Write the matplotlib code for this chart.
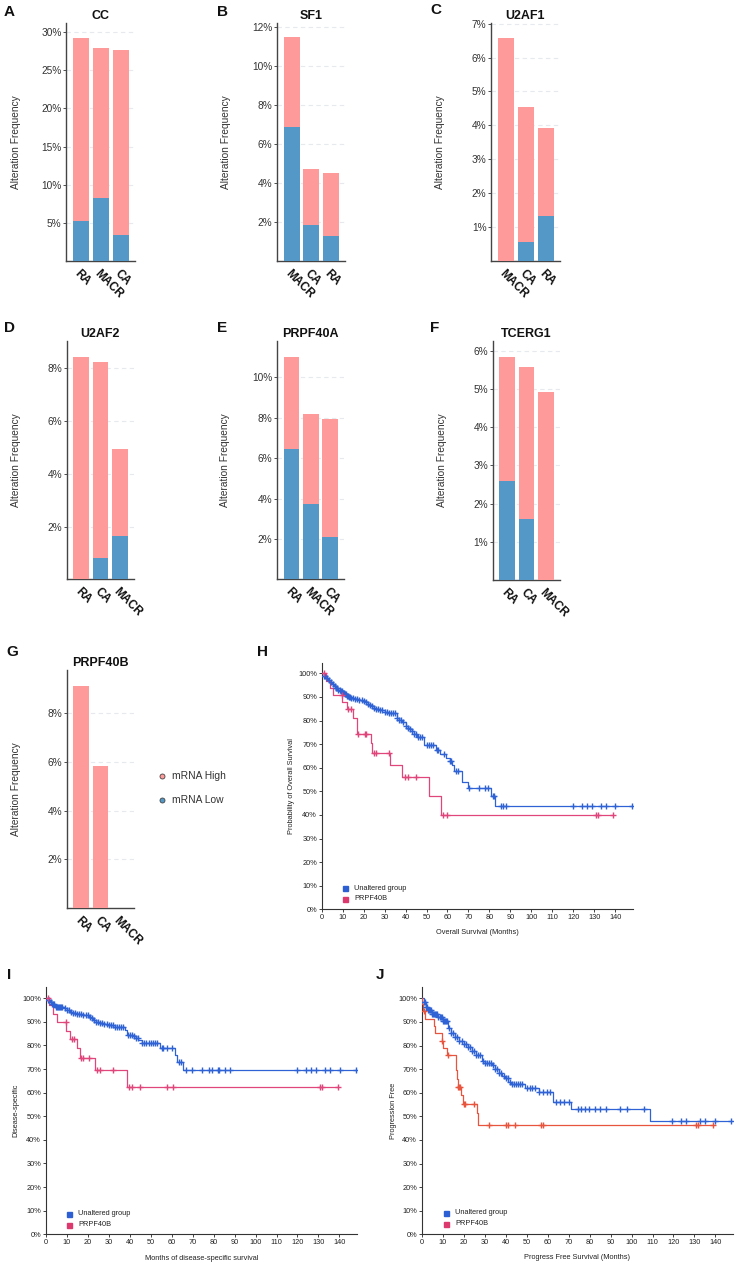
import numpy as np
import matplotlib
matplotlib.use("Agg")
import matplotlib.pyplot as plt

plt.rcParams['font.family'] = ['Liberation Sans', 'DejaVu Sans']

# ---------------- bar chart data (percent) ----------------
cc_cats = ['RA', 'MACR', 'CA']
cc_low = [5.2, 8.2, 3.4]
cc_high = [24.0, 19.7, 24.2]

sf1_cats = ['MACR', 'CA', 'RA']
sf1_low = [6.85, 1.83, 1.30]
sf1_high = [4.62, 2.90, 3.23]

u2af1_cats = ['MACR', 'CA', 'RA']
u2af1_low = [0.0, 0.55, 1.32]
u2af1_high = [6.57, 3.98, 2.60]

u2af2_cats = ['RA', 'CA', 'MACR']
u2af2_low = [0.0, 0.80, 1.65]
u2af2_high = [8.45, 7.45, 3.28]

prpf40a_cats = ['RA', 'MACR', 'CA']
prpf40a_low = [6.46, 3.73, 2.10]
prpf40a_high = [4.56, 4.46, 5.86]

tcerg1_cats = ['RA', 'CA', 'MACR']
tcerg1_low = [2.60, 1.60, 0.0]
tcerg1_high = [3.25, 3.98, 4.92]

prpf40b_cats = ['RA', 'CA', 'MACR']
prpf40b_low = [0.0, 0.0, 0.0]
prpf40b_high = [9.10, 5.84, 0.0]

legend_labels = ['mRNA High', 'mRNA Low']

# ---------------- Kaplan-Meier data ----------------
# H: overall survival
h_unalt_t = [0, 1, 2, 3, 4, 5, 6, 7, 8, 9, 10, 11, 12, 13, 14, 16, 18, 20, 21, 22, 23, 24, 25, 26, 28, 30,
             32, 36, 37, 38.5, 40, 41, 42, 43, 44, 45.5, 49, 54.5, 56.5, 59.5, 61, 62, 63.3, 66.7, 69.8, 80.9, 82.6]
h_unalt_s = [100, 99, 98, 97, 96.2, 95.3, 94.5, 93.8, 93, 92.4, 91.8, 91.2, 90.6, 90.1, 89.7, 89.3, 88.9, 88.3,
             87.8, 87.2, 86.5, 86, 85.5, 85, 84.4, 83.7, 83.2, 81, 80.3, 79.5, 77.7, 77, 76.2, 75.4, 74.2, 73.2,
             69.8, 67.6, 65.8, 64, 62.8, 61.2, 58.8, 53.9, 51.3, 48, 43.6]
h_unalt_cens = [1, 1.5, 2.5, 3.5, 4.5, 5.5, 6.5, 7, 7.5, 8, 8.5, 9, 9.5, 10, 10.5, 11, 11.5, 12, 12.5, 13, 13.5,
                14, 15, 16, 17, 18, 19, 20, 21, 22, 23, 24, 25, 26, 27, 28, 29, 30, 31, 32, 33, 34, 35, 36, 37,
                38, 39, 40, 41, 42, 43, 44, 45, 46, 47, 48, 50, 51, 52, 53, 55, 55.5, 58.5, 61, 61.8, 64, 65,
                70.5, 75, 78, 79.5, 81.8, 82.3, 85.5, 86.5, 88, 120, 124, 126.5, 129, 133, 135.5, 140, 148]
h_unalt_end = 148
h_alt_t = [0, 1.9, 4, 5.4, 9.8, 11.9, 14.9, 16.7, 23.3, 24.1, 32.5, 38.4, 51.1, 57.1]
h_alt_s = [100, 96.9, 93.8, 90.7, 87.7, 84.7, 81.1, 74.4, 70.3, 66.1, 61.2, 56.1, 48.0, 39.8]
h_alt_cens = [1, 9.5, 12.5, 14, 17.5, 20.5, 21, 24.8, 26, 32.3, 39.5, 41, 45, 58, 60, 131, 132, 139]
h_alt_end = 139

# I: disease-specific survival
i_unalt_t = [0, 1, 2, 3, 4.5, 6.5, 8.5, 10, 11.6, 13, 14.8, 18, 20.4, 21.5, 22.7, 24, 25.9, 27.5, 29.1, 32.3,
             35.5, 37.9, 38.7, 41.8, 43, 44.2, 45.8, 54.6, 61.4, 62.5, 65.4]
i_unalt_s = [100, 99.3, 98.6, 97.5, 96.5, 96.1, 95.8, 95, 94.1, 93.6, 93.2, 92.9, 92.2, 91.5, 90.8, 90.1, 89.4,
             89, 88.7, 88, 87.7, 86.6, 84.5, 84, 83.2, 82.3, 81.2, 78.8, 75.8, 72.9, 69.5]
i_unalt_cens = [1, 1.5, 2.5, 3, 3.5, 4, 5, 5.5, 6, 6.5, 7, 7.5, 8, 9, 10, 11, 12, 13, 14, 15, 16, 17, 18, 19,
                20, 21, 22, 23, 24, 25, 26, 27, 28, 29, 30, 31, 32, 33, 34, 35, 36, 37, 39, 40, 41, 42, 43, 44,
                46, 47, 48, 49, 50, 51, 52, 53, 55.5, 56, 58, 60, 63.5, 64.5, 66.8, 69.8, 74.3, 78, 79.4, 82,
                82.7, 85.4, 87.7, 119.8, 123.9, 126.2, 128.7, 133, 135.4, 140.2, 147.8]
i_unalt_end = 147.8
i_alt_t = [0, 1.6, 3.7, 5.6, 9.7, 11.6, 15.1, 16.4, 23.5, 38.7]
i_alt_s = [100, 97.2, 93.2, 89.9, 86.2, 82.6, 78.9, 74.9, 69.4, 62.4]
i_alt_cens = [1, 9.5, 12.3, 13.5, 17, 18, 20.5, 24.5, 26, 32, 39.5, 41, 45, 58, 60.5, 130.5, 131.5, 139.5]
i_alt_end = 139.5

# J: progression free survival
j_unalt_t = [0, 1, 2, 3, 5, 8, 10, 12.5, 14, 15.7, 18, 20, 22, 24, 26, 28.5, 30, 33.3, 35, 37, 38.1, 39.8,
             41.3, 42.5, 49.3, 55.7, 62.8, 71.3, 108.7]
j_unalt_s = [100, 98.5, 96.5, 95, 93.5, 92.2, 90.5, 87.3, 85.3, 83.7, 82, 80.8, 79.5, 77.8, 75.8, 73.5, 72.7,
             71.7, 70.2, 68.5, 67.2, 66.3, 64.5, 63.6, 62, 60.3, 56.2, 53.3, 48.2]
j_unalt_cens = [1, 1.5, 2, 2.5, 3, 3.5, 4, 4.5, 5, 5.5, 6, 6.5, 7, 7.5, 8, 8.5, 9, 9.5, 10, 10.5, 11, 11.5, 12,
                13, 14, 15, 16, 17, 18, 19, 20, 21, 22, 23, 24, 25, 26, 27, 28, 29, 30, 31, 32, 33, 34, 35, 36,
                37, 38, 39, 40, 41, 42, 43, 44, 45, 46, 47, 48, 50.1, 51.5, 52.5, 53.8, 56, 57.8, 59.7, 61.2,
                63.8, 65.7, 67.6, 70, 74.3, 75.9, 77.6, 79.7, 82.4, 85.1, 88, 94.7, 97.8, 106.1, 119.3, 123.6,
                125.8, 132.5, 134.9, 139.7, 147.6]
j_unalt_end = 147.6
j_alt_t = [0, 0.3, 0.8, 1.6, 5.9, 6.4, 9.5, 10, 11.9, 16.2, 16.5, 16.8, 17.1, 18.8, 19.6, 26.2, 26.7]
j_alt_s = [100, 97.5, 94.6, 91.3, 88.3, 85.2, 82.1, 79.0, 75.9, 72.8, 69.5, 66, 62.3, 59, 55.3, 51.5, 46.3]
j_alt_cens = [1.2, 9.7, 12.5, 17.3, 17.8, 18.3, 20.1, 20.8, 25, 32, 40, 41, 44.5, 57, 58, 130.5, 131.5, 139]
j_alt_end = 139

km_groups = ['Unaltered group', 'PRPF40B']
km_x_ticks = list(range(0, 141, 10))
km_y_ticks = list(range(0, 101, 10))

# ---------------- styling ----------------
PINK = '#FF9A9A'
BLUE = '#5398C6'
KM_BLUE = '#2E62D5'
KM_PINK = '#E0457B'
KM_RED = '#E8553F'
LEG_BLUE = '#2C5FD4'
LEG_PINK = '#DC3A6E'

W, H = 737, 1267
fig = plt.figure(figsize=(W / 100, H / 100), dpi=100)


def px_axes(x0, y0, x1, y1):
    return fig.add_axes([x0 / W, 1 - y1 / H, (x1 - x0) / W, (y1 - y0) / H])


ov = fig.add_axes([0, 0, 1, 1])
ov.set_xlim(0, W)
ov.set_ylim(H, 0)
ov.axis('off')


def bar_panel(box, cats, low, high, ytop, yticks, title, letter, letter_xy, ylab_x):
    x0, y0, x1, y1 = box
    ax = px_axes(x0, y0, x1, y1)
    x = np.arange(len(cats))
    low = np.array(low)
    high = np.array(high)
    ax.bar(x, low, width=0.8, color=BLUE, zorder=3)
    ax.bar(x, high, bottom=low, width=0.8, color=PINK, zorder=3)
    ax.set_xlim(-0.75, 2.72)
    ax.set_ylim(0, ytop)
    ax.set_yticks(yticks)
    ax.set_yticklabels([f'{v}%' for v in yticks])
    ax.set_xticks(x)
    ax.set_xticklabels(cats, rotation=-45, ha='left', va='top', rotation_mode='anchor',
                       fontweight='bold', fontsize=8.4, color='#111111')
    for v in yticks:
        ax.axhline(v, color='#E6EAEF', lw=0.8, ls=(0, (4, 3)), zorder=1)
    for s in ['top', 'right']:
        ax.spines[s].set_visible(False)
    for s in ['left', 'bottom']:
        ax.spines[s].set_color('#444444')
        ax.spines[s].set_linewidth(1.0)
    ax.tick_params(axis='y', labelsize=7.3, length=2.2, width=0.6, pad=1, colors='#333333')
    ax.tick_params(axis='x', length=0, pad=4.5)
    ax.set_facecolor('none')
    cx = (x0 + x1) / 2
    ov.text(cx, y0 - 7, title, ha='center', va='center', fontsize=9, fontweight='bold', color='#111111')
    ov.text(letter_xy[0], letter_xy[1], letter, ha='center', va='center', fontsize=11,
            fontweight='bold', color='#111111')
    ov.text(ylab_x, (y0 + y1) / 2, 'Alteration Frequency', rotation=90, ha='center', va='center',
            fontsize=7.3, color='#333333')
    return ax


bar_panel((66, 23, 135, 261), cc_cats, cc_low, cc_high, 31.2, [5, 10, 15, 20, 25, 30], 'CC', 'A', (9.5, 11.7), 16)
bar_panel((277, 23, 345, 261), sf1_cats, sf1_low, sf1_high, 12.2, [2, 4, 6, 8, 10, 12], 'SF1', 'B', (223, 11.7), 226)
bar_panel((491, 23, 560, 261), u2af1_cats, u2af1_low, u2af1_high, 7.02, [1, 2, 3, 4, 5, 6, 7], 'U2AF1', 'C', (436, 10.5), 440)
bar_panel((66.7, 341, 134, 579.5), u2af2_cats, u2af2_low, u2af2_high, 9.04, [2, 4, 6, 8], 'U2AF2', 'D', (10, 328.3), 16)
bar_panel((277, 341, 344, 579.5), prpf40a_cats, prpf40a_low, prpf40a_high, 11.8, [2, 4, 6, 8, 10], 'PRPF40A', 'E', (222, 328), 225)
bar_panel((492.7, 341, 560, 580), tcerg1_cats, tcerg1_low, tcerg1_high, 6.26, [1, 2, 3, 4, 5, 6], 'TCERG1', 'F', (435, 328), 441.7)
bar_panel((66.7, 670, 134, 908.3), prpf40b_cats, prpf40b_low, prpf40b_high, 9.75, [2, 4, 6, 8], 'PRPF40B', 'G', (12.5, 652.3), 16)

# legend for mRNA high / low
for lab, col, yy in zip(legend_labels, [PINK, BLUE], [775.7, 800]):
    ov.plot([161.7], [yy], marker='o', ms=3.6, mfc=col, mec='#444444', mew=0.6, ls='none')
    ov.text(172.5, yy, lab, ha='left', va='center', fontsize=7.4, color='#333333')


def surv_at(t_knots, s_knots, times):
    idx = np.searchsorted(np.array(t_knots), np.array(times), side='right') - 1
    return np.array(s_knots)[idx]


def km_panel(box, ytop, curves, xlabel, ylabel, letter, letter_xy, ylab_x, xlab_y, leg_xy):
    x0, y0, x1, y1 = box
    ax = px_axes(x0, y0, x1, y1)
    for (t, s, cens, end, col) in curves:
        tt = list(t) + [end]
        ss = list(s) + [s[-1]]
        ax.step(tt, ss, where='post', color=col, lw=0.9, zorder=3)
        ax.plot(cens, surv_at(t, s, cens), ls='none', marker='+', ms=4.2, mew=1.0, color=col, zorder=4)
    ax.set_xlim(0, 148.5)
    ax.set_ylim(0, ytop)
    ax.set_xticks(km_x_ticks)
    ax.set_yticks(km_y_ticks)
    ax.set_yticklabels([f'{v}%' for v in km_y_ticks])
    for s in ['top', 'right']:
        ax.spines[s].set_visible(False)
    for s in ['left', 'bottom']:
        ax.spines[s].set_color('#333333')
        ax.spines[s].set_linewidth(0.8)
    ax.tick_params(labelsize=5.3, length=2.2, width=0.6, pad=1.2, colors='#222222')
    ax.set_facecolor('none')
    cx = (x0 + x1) / 2
    ov.text(cx, xlab_y, xlabel, ha='center', va='center', fontsize=5.3, color='#222222')
    ov.text(ylab_x, (y0 + y1) / 2, ylabel, rotation=90, ha='center', va='center', fontsize=5.3, color='#222222')
    ov.text(letter_xy[0], letter_xy[1], letter, ha='center', va='center', fontsize=11,
            fontweight='bold', color='#111111')
    lx, ly = leg_xy
    for k, (lab, col) in enumerate(zip(km_groups, [LEG_BLUE, LEG_PINK])):
        yy = ly + k * 11
        ov.plot([lx], [yy], marker='s', ms=3.6, color=col, ls='none')
        ov.text(lx + 9, yy, lab, ha='left', va='center', fontsize=5.3, color='#222222')
    return ax


km_panel((321.7, 662.7, 633, 909.3), 104.5,
         [(h_unalt_t, h_unalt_s, h_unalt_cens, h_unalt_end, KM_BLUE),
          (h_alt_t, h_alt_s, h_alt_cens, h_alt_end, KM_PINK)],
         'Overall Survival (Months)', 'Probability of Overall Survival', 'H', (263, 652), 291.7, 933,
         (345, 888))
km_panel((45.7, 986.7, 357.3, 1234.3), 104.9,
         [(i_unalt_t, i_unalt_s, i_unalt_cens, i_unalt_end, KM_BLUE),
          (i_alt_t, i_alt_s, i_alt_cens, i_alt_end, KM_PINK)],
         'Months of disease-specific survival', 'Disease-specific', 'I', (9, 975), 15.7, 1259,
         (69, 1213.7))
km_panel((421.7, 987.3, 733.3, 1234.3), 104.7,
         [(j_unalt_t, j_unalt_s, j_unalt_cens, j_unalt_end, KM_BLUE),
          (j_alt_t, j_alt_s, j_alt_cens, j_alt_end, KM_RED)],
         'Progress Free Survival (Months)', 'Progression Free', 'J', (380, 975), 393.3, 1257.7,
         (446, 1212.7))

fig.savefig('out.png', dpi=100)
